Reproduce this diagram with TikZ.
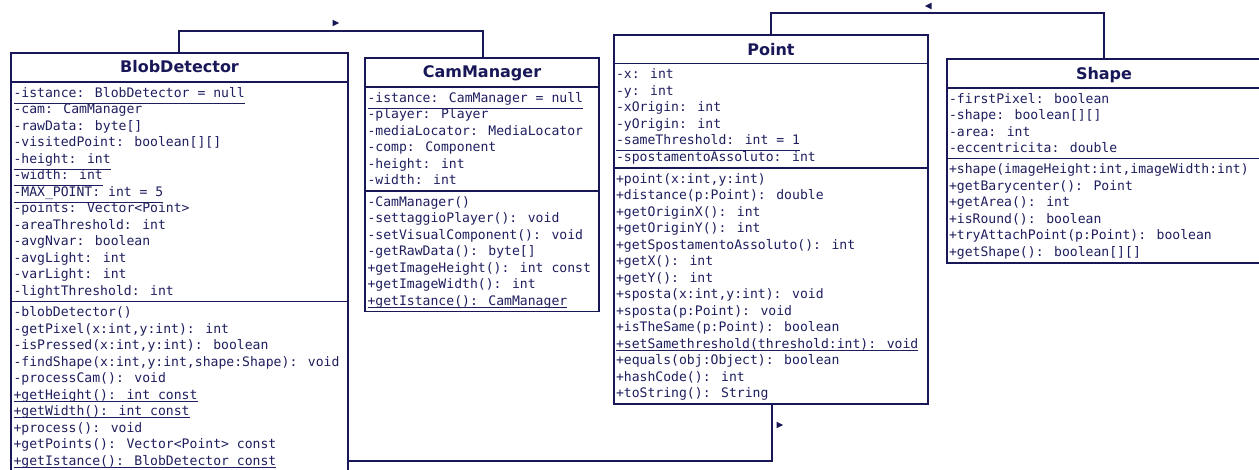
\documentclass[tikz,border=0pt]{standalone}
\usepackage{fontspec}
\newfontfamily\monof{DejaVu Sans Mono}
\newfontfamily\titlef{DejaVu Sans}
\definecolor{navy}{RGB}{24,24,88}
\definecolor{txt}{RGB}{30,30,95}
\tikzset{
  classbox/.style={draw=navy, line width=1.8pt, fill=white, inner sep=0pt, outer sep=0pt, anchor=north west},
  divider/.style={draw=navy, line width=1.5pt},
  conn/.style={draw=navy, line width=1.8pt},
  uline/.style={draw=txt, line width=0.9pt},
  rowtext/.style={anchor=base west, inner sep=0pt, outer sep=0pt, text=txt, font=\monof\fontsize{13.1}{16}\selectfont},
  titletext/.style={anchor=base, inner sep=0pt, text=navy, font=\titlef\bfseries\fontsize{16}{19}\selectfont},
}
% name, x, section top, index, text
\newcommand\umlrow[5]{\node[rowtext] (#1) at (#2,{#3+2.5+(#4-0.5)*16.5+4.7}) {#5};}
% underlined attribute (line lies low, at the row boundary)
\newcommand\umlrowu[5]{\umlrow{#1}{#2}{#3}{#4}{#5}\draw[uline] ([yshift=-5.8pt]#1.base west) -- ([yshift=-5.8pt]#1.base east);}
% underlined operation (line just under the baseline)
\newcommand\umlrowm[5]{\umlrow{#1}{#2}{#3}{#4}{#5}\draw[uline] ([yshift=-1.8pt]#1.base west) -- ([yshift=-1.8pt]#1.base east);}
\begin{document}
\begin{tikzpicture}[x=1pt,y=-1pt]
\fill[white] (0,0) rectangle (1259,469);
\useasboundingbox (0,0) rectangle (1259,469);

% ---------- BlobDetector ----------
\node[classbox, minimum width=337pt, minimum height=422pt] (blob) at (11,53) {};
\draw[divider] (11,82) -- (348,82);
\draw[divider] (11,301.5) -- (348,301.5);
\node[titletext] (blobT) at (179.5,72.5) {BlobDetector};
\umlrowu{ba1}{13.5}{82}{1}{-istance: BlobDetector = null}
\umlrow{ba2}{13.5}{82}{2}{-cam: CamManager}
\umlrow{ba3}{13.5}{82}{3}{-rawData: byte[]}
\umlrow{ba4}{13.5}{82}{4}{-visitedPoint: boolean[][]}
\umlrowu{ba5}{13.5}{82}{5}{-height: int}
\umlrowu{ba6}{13.5}{82}{6}{-width: int}
\umlrowu{ba7}{13.5}{82}{7}{-MAX\_POINT: int = 5}
\umlrow{ba8}{13.5}{82}{8}{-points: Vector<Point>}
\umlrow{ba9}{13.5}{82}{9}{-areaThreshold: int}
\umlrow{ba10}{13.5}{82}{10}{-avgNvar: boolean}
\umlrow{ba11}{13.5}{82}{11}{-avgLight: int}
\umlrow{ba12}{13.5}{82}{12}{-varLight: int}
\umlrow{ba13}{13.5}{82}{13}{-lightThreshold: int}
\umlrow{bm1}{13.5}{301.5}{1}{-blobDetector()}
\umlrow{bm2}{13.5}{301.5}{2}{-getPixel(x:int,y:int): int}
\umlrow{bm3}{13.5}{301.5}{3}{-isPressed(x:int,y:int): boolean}
\umlrow{bm4}{13.5}{301.5}{4}{-findShape(x:int,y:int,shape:Shape): void}
\umlrow{bm5}{13.5}{301.5}{5}{-processCam(): void}
\umlrowm{bm6}{13.5}{301.5}{6}{+getHeight(): int const}
\umlrowm{bm7}{13.5}{301.5}{7}{+getWidth(): int const}
\umlrow{bm8}{13.5}{301.5}{8}{+process(): void}
\umlrow{bm9}{13.5}{301.5}{9}{+getPoints(): Vector<Point> const}
\umlrowm{bm10}{13.5}{301.5}{10}{+getIstance(): BlobDetector const}

% ---------- CamManager ----------
\node[classbox, minimum width=234pt, minimum height=253.5pt] (cam) at (365,58) {};
\draw[divider] (365,87) -- (599,87);
\draw[divider] (365,191) -- (599,191);
\node[titletext] (camT) at (482,77.5) {CamManager};
\umlrowu{ca1}{367.5}{87}{1}{-istance: CamManager = null}
\umlrow{ca2}{367.5}{87}{2}{-player: Player}
\umlrow{ca3}{367.5}{87}{3}{-mediaLocator: MediaLocator}
\umlrow{ca4}{367.5}{87}{4}{-comp: Component}
\umlrow{ca5}{367.5}{87}{5}{-height: int}
\umlrow{ca6}{367.5}{87}{6}{-width: int}
\umlrow{cm1}{367.5}{191}{1}{-CamManager()}
\umlrow{cm2}{367.5}{191}{2}{-settaggioPlayer(): void}
\umlrow{cm3}{367.5}{191}{3}{-setVisualComponent(): void}
\umlrow{cm4}{367.5}{191}{4}{-getRawData(): byte[]}
\umlrow{cm5}{367.5}{191}{5}{+getImageHeight(): int const}
\umlrow{cm6}{367.5}{191}{6}{+getImageWidth(): int}
\umlrowm{cm7}{367.5}{191}{7}{+getIstance(): CamManager}

% ---------- Point ----------
\node[classbox, minimum width=314pt, minimum height=369pt] (point) at (614,35) {};
\draw[divider] (614,63.3) -- (928,63.3);
\draw[divider] (614,167.8) -- (928,167.8);
\node[titletext] (pointT) at (771,55) {Point};
\umlrow{pa1}{616}{63.3}{1}{-x: int}
\umlrow{pa2}{616}{63.3}{2}{-y: int}
\umlrow{pa3}{616}{63.3}{3}{-xOrigin: int}
\umlrow{pa4}{616}{63.3}{4}{-yOrigin: int}
\umlrowu{pa5}{616}{63.3}{5}{-sameThreshold: int = 1}
\umlrow{pa6}{616}{63.3}{6}{-spostamentoAssoluto: int}
\umlrow{pm1}{616}{167.8}{1}{+point(x:int,y:int)}
\umlrow{pm2}{616}{167.8}{2}{+distance(p:Point): double}
\umlrow{pm3}{616}{167.8}{3}{+getOriginX(): int}
\umlrow{pm4}{616}{167.8}{4}{+getOriginY(): int}
\umlrow{pm5}{616}{167.8}{5}{+getSpostamentoAssoluto(): int}
\umlrow{pm6}{616}{167.8}{6}{+getX(): int}
\umlrow{pm7}{616}{167.8}{7}{+getY(): int}
\umlrow{pm8}{616}{167.8}{8}{+sposta(x:int,y:int): void}
\umlrow{pm9}{616}{167.8}{9}{+sposta(p:Point): void}
\umlrow{pm10}{616}{167.8}{10}{+isTheSame(p:Point): boolean}
\umlrowm{pm11}{616}{167.8}{11}{+setSamethreshold(threshold:int): void}
\umlrow{pm12}{616}{167.8}{12}{+equals(obj:Object): boolean}
\umlrow{pm13}{616}{167.8}{13}{+hashCode(): int}
\umlrow{pm14}{616}{167.8}{14}{+toString(): String}

% ---------- Shape ----------
\node[classbox, minimum width=320pt, minimum height=204pt] (shape) at (947,59) {};
\draw[divider] (947,88) -- (1267,88);
\draw[divider] (947,158.5) -- (1267,158.5);
\node[titletext] (shapeT) at (1104,79) {Shape};
\umlrow{sa1}{949}{88}{1}{-firstPixel: boolean}
\umlrow{sa2}{949}{88}{2}{-shape: boolean[][]}
\umlrow{sa3}{949}{88}{3}{-area: int}
\umlrow{sa4}{949}{88}{4}{-eccentricita: double}
\umlrow{sm1}{949}{158.5}{1}{+shape(imageHeight:int,imageWidth:int)}
\umlrow{sm2}{949}{158.5}{2}{+getBarycenter(): Point}
\umlrow{sm3}{949}{158.5}{3}{+getArea(): int}
\umlrow{sm4}{949}{158.5}{4}{+isRound(): boolean}
\umlrow{sm5}{949}{158.5}{5}{+tryAttachPoint(p:Point): boolean}
\umlrow{sm6}{949}{158.5}{6}{+getShape(): boolean[][]}

% ---------- connectors ----------
\coordinate (c1) at (179,31);
\coordinate (c2) at (483,31);
\draw[conn] (c1 |- blob.north) -- (c1) -- (c2) -- (c2 |- cam.north);
\coordinate (c3) at (771,13);
\coordinate (c4) at (1104,13);
\draw[conn] (c3 |- point.north) -- (c3) -- (c4) -- (c4 |- shape.north);
\coordinate (c5) at (772,461);
\draw[conn] (c5 |- point.south) -- (c5) -- (c5 -| blob.east);

% direction markers
\coordinate (d1) at (339,23);
\fill[navy] (d1) -- ++(-6.5,-3.3) -- ++(0,6.6) -- cycle;
\coordinate (d2) at (925,6);
\fill[navy] (d2) -- ++(6.5,-3.3) -- ++(0,6.6) -- cycle;
\coordinate (d3) at (783,425);
\fill[navy] (d3) -- ++(-6.5,-3.3) -- ++(0,6.6) -- cycle;
\end{tikzpicture}
\end{document}
